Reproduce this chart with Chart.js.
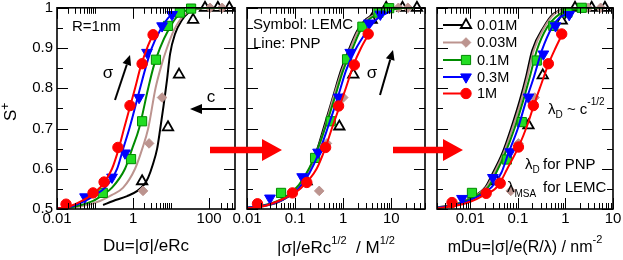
<!DOCTYPE html>
<html><head><meta charset="utf-8">
<script src="https://cdn.jsdelivr.net/npm/chart.js@4.4.1/dist/chart.umd.min.js"></script>
<style>
html,body{margin:0;padding:0;background:#fff;}
#wrap{position:relative;width:623px;height:260px;overflow:hidden;background:#fff;}
#wrap canvas{position:absolute;left:0;top:0;}
</style></head><body>
<div id="wrap">
<canvas id="c1" width="623" height="260"></canvas>
<canvas id="c2" width="623" height="260"></canvas>
<canvas id="c3" width="623" height="260"></canvas>
</div>
<script>
// ---------------- DATA ----------------
const seriesNames = ['0.01M', '0.03M', '0.1M', '0.3M', '1M'];
const yTickLabels = [0.5, 0.6, 0.7, 0.8, 0.9, 1];
const p1XTickLabels = [0.01, 1, 100];
const p2XTickLabels = [0.01, 0.1, 1, 10];
const p3XTickLabels = [0.01, 0.1, 1, 10];

// Panel 1: x = Du
const p1Line001 = [[0.163,0.51],[0.3,0.52],[0.7,0.532],[1.3,0.545],[2.0,0.562],[2.5,0.578],[3.3,0.61],[4.3,0.65],[5.2,0.7],[6.2,0.75],[7.8,0.82],[9.4,0.885],[12.7,0.935],[19.4,0.97],[28,0.987],[40,0.995],[60,0.999],[100,1],[480,1]];
const p1Line003 = [[0.01,0.501],[0.04,0.506],[0.135,0.52],[0.28,0.535],[0.55,0.553],[1.13,0.6],[1.75,0.65],[2.5,0.7],[3.9,0.8],[5.5,0.855],[7.8,0.9],[12,0.945],[21,0.98],[40,0.996],[140,1],[480,1]];
const p1Line01  = [[0.01,0.501],[0.03,0.506],[0.089,0.52],[0.16,0.535],[0.28,0.553],[0.615,0.6],[0.95,0.65],[1.44,0.7],[2.5,0.8],[3.5,0.855],[5.1,0.9],[8.5,0.945],[15,0.98],[30,0.996],[110,1],[480,1]];
const p1Line03  = [[0.01,0.501],[0.025,0.507],[0.055,0.52],[0.1,0.535],[0.183,0.553],[0.38,0.6],[0.55,0.65],[0.8,0.7],[1.53,0.8],[2.2,0.855],[3.1,0.9],[5.2,0.945],[9.4,0.98],[14,0.99]];
const p1Line1   = [[0.01,0.501],[0.022,0.507],[0.045,0.52],[0.083,0.535],[0.135,0.553],[0.28,0.6],[0.42,0.65],[0.58,0.7],[1.13,0.8],[1.6,0.855],[2.34,0.9],[3.8,0.945]];
const p1Mark001 = [[1.73,0.569],[8.3,0.703],[16.2,0.834],[38,0.97],[78,1],[170,1],[340,1]];
const p1Mark003 = [[1.83,0.545],[2.64,0.663],[5.8,0.777],[106,1],[220,1]];
const p1Mark01  = [[0.16,0.54],[0.885,0.624],[1.73,0.718],[4.0,0.871],[8.3,0.955],[17,0.988],[33.6,0.998]];
const p1Mark03  = [[0.0546,0.53],[0.28,0.579],[0.615,0.639],[1.44,0.777],[2.33,0.889],[5.8,0.955],[10.6,0.983]];
const p1Mark1   = [[0.0173,0.512],[0.0886,0.54],[0.173,0.567],[0.4,0.653],[0.83,0.757],[1.73,0.861],[3.36,0.933]];

// Panel 2: x = |sigma|/eRc^1/2
const p2Line001 = [[0.01,0.503],[0.02,0.507],[0.04,0.515],[0.07,0.53],[0.12,0.555],[0.2,0.6],[0.3,0.655],[0.4,0.705],[0.6,0.775],[0.9,0.845],[1.25,0.89],[1.95,0.943],[3,0.972],[5.1,0.987],[10,0.997],[20,1],[50,1]];
const p2Line003 = [[0.01,0.503],[0.02,0.507],[0.04,0.516],[0.07,0.531],[0.12,0.556],[0.2,0.6],[0.31,0.655],[0.42,0.705],[0.62,0.775],[0.95,0.845],[1.32,0.89],[2.05,0.943],[3.2,0.972],[5.5,0.987],[11,0.997],[22,1],[50,1]];
const p2Line01  = [[0.01,0.503],[0.02,0.508],[0.04,0.518],[0.07,0.534],[0.12,0.56],[0.2,0.603],[0.3,0.652],[0.43,0.705],[0.66,0.775],[1.0,0.845],[1.45,0.89],[2.26,0.943],[3.5,0.972],[5.9,0.987],[12,0.997],[25,1],[50,1]];
const p2Line03  = [[0.01,0.503],[0.02,0.507],[0.04,0.516],[0.07,0.53],[0.12,0.552],[0.2,0.59],[0.3,0.635],[0.47,0.7],[0.76,0.775],[1.15,0.845],[1.75,0.894],[3.16,0.943],[5,0.972],[7.5,0.985],[10,0.993]];
const p2Line1   = [[0.01,0.502],[0.022,0.507],[0.045,0.52],[0.083,0.535],[0.135,0.553],[0.28,0.6],[0.42,0.65],[0.58,0.7],[1.13,0.8],[1.6,0.855],[2.34,0.9],[3.8,0.945]];
const p2Mark001 = [[0.173,0.569],[0.83,0.705],[1.62,0.834],[3.9,0.97],[7.8,1],[17,1],[34,1]];
const p2Mark003 = [[0.317,0.545],[0.457,0.663],[1.0,0.777],[14,1],[22,1]];
const p2Mark01  = [[0.051,0.54],[0.26,0.627],[0.55,0.718],[1.2,0.872],[2.5,0.953],[5.4,0.988],[9,0.999]];
const p2Mark03  = [[0.03,0.527],[0.14,0.58],[0.3,0.641],[0.8,0.778],[1.4,0.889],[3.4,0.962],[5.9,0.984]];
const p2Mark1   = [[0.0165,0.513],[0.088,0.54],[0.175,0.566],[0.43,0.653],[0.8,0.756],[1.7,0.858],[3.3,0.935]];

// Panel 3: x = mDu
const p3Line001 = [[0.002,0.504],[0.005,0.512],[0.01,0.527],[0.021,0.555],[0.03,0.59],[0.047,0.638],[0.072,0.7],[0.11,0.77],[0.15,0.83],[0.2,0.894],[0.345,0.951],[0.56,0.985],[1.25,0.997],[3,1],[10,1]];
const p3Line003 = [[0.002,0.503],[0.005,0.512],[0.01,0.526],[0.022,0.555],[0.032,0.59],[0.05,0.638],[0.077,0.7],[0.118,0.77],[0.16,0.83],[0.215,0.894],[0.36,0.951],[0.6,0.985],[1.4,0.997],[3.2,1],[10,1]];
const p3Line01  = [[0.002,0.503],[0.005,0.511],[0.01,0.525],[0.024,0.555],[0.035,0.59],[0.054,0.638],[0.085,0.7],[0.13,0.77],[0.18,0.83],[0.25,0.894],[0.41,0.951],[0.77,0.985],[1.7,0.997],[3.5,1],[10,1]];
const p3Line03  = [[0.002,0.503],[0.005,0.51],[0.01,0.522],[0.0285,0.555],[0.045,0.59],[0.063,0.638],[0.1,0.7],[0.15,0.77],[0.22,0.83],[0.32,0.894],[0.52,0.951],[0.75,0.975],[1.06,0.985]];
const p3Line1   = [[0.002,0.502],[0.005,0.508],[0.01,0.518],[0.02,0.535],[0.038,0.557],[0.06,0.6],[0.104,0.655],[0.16,0.71],[0.22,0.76],[0.31,0.81],[0.44,0.86],[0.62,0.9],[0.88,0.937]];
const p3Mark001 = [[0.036,0.569],[0.167,0.708],[0.334,0.832],[0.836,0.968],[1.59,1],[3.56,1],[6.77,1]];
const p3Mark003 = [[0.071,0.545],[0.103,0.663],[0.226,0.777],[3.0,1],[5.5,1]];
const p3Mark01  = [[0.01086,0.54],[0.0587,0.623],[0.121,0.716],[0.25,0.869],[0.557,0.955],[1.1,0.988],[2.2,1]];
const p3Mark03  = [[0.0067,0.526],[0.0299,0.578],[0.069,0.642],[0.167,0.778],[0.344,0.885],[0.62,0.955],[1.2,0.983]];
const p3Mark1   = [[0.00413,0.516],[0.0216,0.539],[0.0426,0.564],[0.103,0.654],[0.212,0.757],[0.438,0.861],[0.836,0.935]];

// ---------------- STYLE ----------------
const FONT = "'Liberation Sans', Arial, Helvetica, sans-serif";
const lineColors   = ['#000000', '#bc948f', '#008b00', '#0000ff', '#ff0000'];
const markerFill   = ['rgba(0,0,0,0)', '#bc948f', '#22dd22', '#0000ff', '#ff0000'];
const markerBorder = ['#000000', '#bc948f', '#008b00', '#0000ff', '#ff0000'];
const markerStyle  = ['triangle', 'rectRot', 'rect', 'triangle', 'circle'];
const markerRot    = [0, 0, 0, 180, 0];
const markerRadius = [6, 4.8, 6.5, 6.2, 5.2];
const markerBW     = [1.8, 1, 1, 1, 1];

function toXY(arr) { return arr.map(p => ({x: p[0], y: p[1]})); }

function buildDatasets(lines, marks) {
  const ds = [];
  for (let i = 0; i < 5; i++) {
    ds.push({label: seriesNames[i] + ' PNP', data: toXY(lines[i]), showLine: true,
      borderColor: lineColors[i], borderWidth: 2, pointRadius: 0, pointHoverRadius: 0,
      cubicInterpolationMode: 'monotone', fill: false, order: 10 - 2 * i});
    ds.push({label: seriesNames[i] + ' LEMC', data: toXY(marks[i]), showLine: false,
      pointStyle: markerStyle[i], pointRotation: markerRot[i], pointRadius: markerRadius[i],
      pointHoverRadius: markerRadius[i],
      backgroundColor: markerFill[i], borderColor: markerBorder[i], borderWidth: markerBW[i],
      clip: false, order: 9 - 2 * i});
  }
  return ds;
}

function sameVal(a, b) { return Math.abs(Math.log10(a) - Math.log10(b)) < 1e-6; }

function framePlugin(cfg) {
  return {
    id: 'frame',
    afterDraw(chart) {
      const ctx = chart.ctx, a = chart.chartArea, xs = chart.scales.x, ys = chart.scales.y;
      ctx.save();
      ctx.strokeStyle = '#000';
      ctx.lineWidth = 1;
      const seg = (x1, y1, x2, y2) => { ctx.beginPath(); ctx.moveTo(x1, y1); ctx.lineTo(x2, y2); ctx.stroke(); };
      const MAJ = 11, MIN = 6;
      const xt = (v, len) => {
        const px = Math.round(xs.getPixelForValue(v)) + 0.5;
        if (px < a.left - 0.5 || px > a.right + 1) return;
        seg(px, a.bottom, px, a.bottom - len);
        seg(px, a.top, px, a.top + len);
      };
      cfg.xMajor.forEach(v => xt(v, MAJ));
      cfg.xMinor.forEach(v => xt(v, MIN));
      const yt = (v, len) => {
        const py = Math.round(ys.getPixelForValue(v)) + 0.5;
        seg(a.left, py, a.left + len, py);
        seg(a.right, py, a.right - len, py);
      };
      yTickLabels.forEach(v => yt(v, MAJ));
      [0.55, 0.65, 0.75, 0.85, 0.95].forEach(v => yt(v, MIN));
      ctx.lineWidth = 1.6;
      ctx.strokeRect(a.left, a.top, a.right - a.left, a.bottom - a.top);
      ctx.restore();
    }
  };
}

// ---------- drawing helpers for annotations ----------
function rich(ctx, x, y, parts, align) {
  let total = 0;
  parts.forEach(p => { ctx.font = p.size + 'px ' + FONT; p.w = ctx.measureText(p.t).width; total += p.w; });
  let cx = align === 'center' ? x - total / 2 : (align === 'right' ? x - total : x);
  ctx.textAlign = 'left';
  ctx.textBaseline = 'alphabetic';
  parts.forEach(p => { ctx.font = p.size + 'px ' + FONT; ctx.fillText(p.t, cx, y + (p.dy || 0)); cx += p.w; });
}
function blackArrow(ctx, x1, y1, x2, y2, head, hw) {
  const ang = Math.atan2(y2 - y1, x2 - x1);
  const bx = x2 - head * Math.cos(ang), by = y2 - head * Math.sin(ang);
  ctx.strokeStyle = '#000'; ctx.fillStyle = '#000'; ctx.lineWidth = 2;
  ctx.beginPath(); ctx.moveTo(x1, y1); ctx.lineTo(bx, by); ctx.stroke();
  ctx.beginPath();
  ctx.moveTo(x2, y2);
  ctx.lineTo(bx + hw * Math.sin(ang), by - hw * Math.cos(ang));
  ctx.lineTo(bx - hw * Math.sin(ang), by + hw * Math.cos(ang));
  ctx.closePath(); ctx.fill();
}
function redArrow(ctx, x1, x2, y) {
  const sh = 3.3, hl = 20, hh = 11;
  ctx.fillStyle = '#ff0000';
  ctx.beginPath();
  ctx.moveTo(x1, y - sh); ctx.lineTo(x2 - hl, y - sh); ctx.lineTo(x2 - hl, y - hh);
  ctx.lineTo(x2, y); ctx.lineTo(x2 - hl, y + hh); ctx.lineTo(x2 - hl, y + sh); ctx.lineTo(x1, y + sh);
  ctx.closePath(); ctx.fill();
}

function makeChart(id, cfg) {
  const labelSet = cfg.xLabels;
  return new Chart(document.getElementById(id), {
    type: 'scatter',
    data: {datasets: buildDatasets(cfg.lines, cfg.marks)},
    options: {
      responsive: false, animation: false, devicePixelRatio: 1, events: [],
      layout: {padding: cfg.padding},
      plugins: {legend: {display: false}, tooltip: {enabled: false}},
      scales: {
        x: {
          type: 'logarithmic', min: cfg.xMin, max: cfg.xMax,
          grid: {display: false, drawTicks: false}, border: {display: false},
          ticks: {autoSkip: false, maxRotation: 0, minRotation: 0, padding: 1, color: '#000',
            font: {family: FONT, size: 15},
            callback: (v) => { const m = labelSet.find(l => sameVal(l, v)); return m === undefined ? '' : String(m); }},
          afterFit: (s) => { s.height = 22; s.paddingLeft = 0; s.paddingRight = 0; }
        },
        y: {
          type: 'linear', min: 0.5, max: 1, display: cfg.showY,
          grid: {display: false, drawTicks: false}, border: {display: false},
          ticks: {stepSize: 0.1, padding: 4, color: '#000', font: {family: FONT, size: 15},
            callback: (v) => { const m = yTickLabels.find(l => Math.abs(l - v) < 1e-6); return m === undefined ? '' : String(m); }},
          afterFit: (s) => { s.width = cfg.showY ? 57 : 0; s.paddingTop = 0; s.paddingBottom = 0; }
        }
      }
    },
    plugins: [framePlugin(cfg), {id: 'annot', afterDraw(chart) { const ctx = chart.ctx; ctx.save(); cfg.annot(ctx); ctx.restore(); }}]
  });
}

function minorTicks(min, max, bases, upto) {
  const out = [];
  bases.forEach(b => { for (let k = 2; k <= upto; k++) { const v = b * k; if (v >= min && v <= max) out.push(v); } });
  return out;
}

// ---------------- PANEL 1 ----------------
makeChart('c1', {
  lines: [p1Line001, p1Line003, p1Line01, p1Line03, p1Line1],
  marks: [p1Mark001, p1Mark003, p1Mark01, p1Mark03, p1Mark1],
  xMin: 0.01, xMax: 480, xLabels: p1XTickLabels, showY: true,
  xMajor: [0.01, 1, 100],
  xMinor: minorTicks(0.01, 480, [0.01, 1, 100], 10),
  padding: {left: 0, right: 623 - 235, top: 7, bottom: 260 - 209 - 22},
  annot(ctx) {
    ctx.fillStyle = '#000';
    ctx.save();
    ctx.translate(16, 121);
    ctx.rotate(-Math.PI / 2);
    rich(ctx, 0, 0, [{t: 'S', size: 17}, {t: '+', size: 12, dy: -7}], 'left');
    ctx.restore();
    rich(ctx, 146, 251, [{t: 'Du=|σ|/eRc', size: 17}], 'center');
    rich(ctx, 72, 31, [{t: 'R=1nm', size: 15}], 'left');
    rich(ctx, 108, 78, [{t: 'σ', size: 17}], 'center');
    blackArrow(ctx, 115, 100, 130, 55, 10, 4.5);
    rich(ctx, 211, 102, [{t: 'c', size: 17}], 'center');
    blackArrow(ctx, 226, 109, 190, 109, 12, 5);
  }
});

// ---------------- PANEL 2 ----------------
makeChart('c2', {
  lines: [p2Line001, p2Line003, p2Line01, p2Line03, p2Line1],
  marks: [p2Mark001, p2Mark003, p2Mark01, p2Mark03, p2Mark1],
  xMin: 0.01, xMax: 50, xLabels: p2XTickLabels, showY: false,
  xMajor: [0.01, 0.1, 1, 10],
  xMinor: minorTicks(0.01, 50, [0.01, 0.1, 1, 10], 9),
  padding: {left: 247, right: 623 - 425, top: 7, bottom: 260 - 209 - 22},
  annot(ctx) {
    ctx.fillStyle = '#000';
    rich(ctx, 336, 253, [{t: '|σ|/eRc', size: 17}, {t: '1/2', size: 11, dy: -9}, {t: '  / M', size: 17}, {t: '1/2', size: 11, dy: -9}], 'center');
    rich(ctx, 253, 29, [{t: 'Symbol: LEMC', size: 15}], 'left');
    rich(ctx, 253, 48, [{t: 'Line: PNP', size: 15}], 'left');
    rich(ctx, 372, 78, [{t: 'σ', size: 17}], 'center');
    blackArrow(ctx, 380, 95, 393, 50, 10, 4.5);
  }
});

// ---------------- PANEL 3 ----------------
makeChart('c3', {
  lines: [p3Line001, p3Line003, p3Line01, p3Line03, p3Line1],
  marks: [p3Mark001, p3Mark003, p3Mark01, p3Mark03, p3Mark1],
  xMin: 0.002, xMax: 10, xLabels: p3XTickLabels, showY: false,
  xMajor: [0.01, 0.1, 1, 10],
  xMinor: minorTicks(0.002, 10, [0.001, 0.01, 0.1, 1], 9),
  padding: {left: 437, right: 623 - 613, top: 7, bottom: 260 - 209 - 22},
  annot(ctx) {
    ctx.fillStyle = '#000';
    rich(ctx, 525, 252, [{t: 'mDu=|σ|/e(R/λ) / nm', size: 16}, {t: '-2', size: 11, dy: -9}], 'center');
    const rows = [25, 42.5, 60, 77, 93.5];
    for (let i = 0; i < 5; i++) {
      const y = rows[i];
      ctx.strokeStyle = lineColors[i]; ctx.lineWidth = 2;
      ctx.beginPath(); ctx.moveTo(443, y); ctx.lineTo(463, y); ctx.stroke();
      ctx.fillStyle = markerFill[i]; ctx.strokeStyle = markerBorder[i]; ctx.lineWidth = markerBW[i];
      Chart.helpers.drawPoint(ctx, {pointStyle: markerStyle[i], rotation: markerRot[i], radius: markerRadius[i], borderWidth: markerBW[i]}, 466, y);
      ctx.fillStyle = '#000';
      ctx.font = '14.5px ' + FONT; ctx.textAlign = 'left'; ctx.textBaseline = 'middle';
      ctx.fillText(seriesNames[i], 477, y + 0.5);
    }
    ctx.fillStyle = '#000';
    rich(ctx, 548, 114, [{t: 'λ', size: 15}, {t: 'D', size: 10, dy: 4}, {t: ' ~ c', size: 15}, {t: '-1/2', size: 10, dy: -9}], 'left');
    rich(ctx, 525, 169, [{t: 'λ', size: 15}, {t: 'D', size: 10, dy: 4}], 'left');
    rich(ctx, 543, 169, [{t: 'for PNP', size: 15}], 'left');
    rich(ctx, 507, 192, [{t: 'λ', size: 15}, {t: 'MSA', size: 10, dy: 5}], 'left');
    rich(ctx, 543, 192, [{t: 'for LEMC', size: 15}], 'left');
    redArrow(ctx, 210, 282, 150);
    redArrow(ctx, 393, 463, 150);
  }
});
</script>
</body></html>
